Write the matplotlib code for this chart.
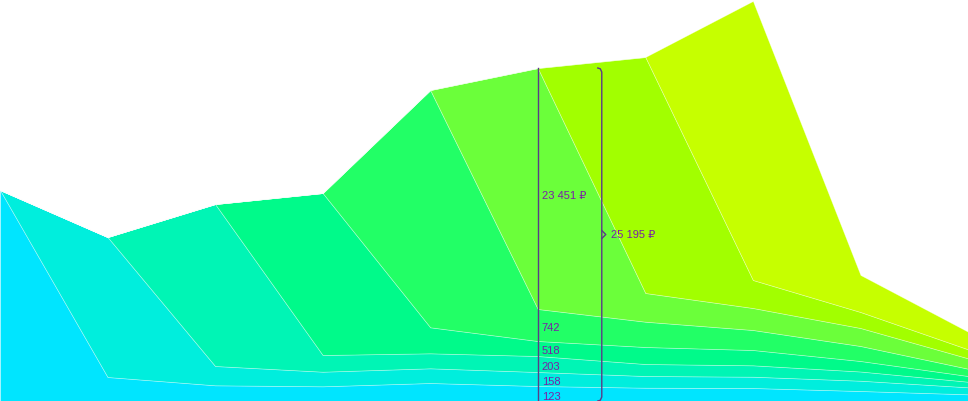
import matplotlib.pyplot as plt
import numpy as np

# periods on the x axis (10 points, no tick labels shown)
periods = np.arange(10)

# layer heights (chart units, bottom layer first)
layer0 = [211, 24, 15.7, 14.7, 18, 15, 13.3, 13, 10, 6.7]
layer1 = [0, 140, 19.3, 14.6, 14.7, 14, 11.7, 11.3, 10.3, 7]
layer2 = [0, 0, 162, 16.7, 15, 16, 12, 11.4, 9.2, 5.6]
layer3 = [0, 0, 0, 162, 26, 15, 17, 15.3, 10.5, 5.7]
layer4 = [0, 0, 0, 0, 237.3, 32, 25.3, 20, 15, 7.3]
layer5 = [0, 0, 0, 0, 0, 241, 28.7, 22, 18, 10.4]
layer6 = [0, 0, 0, 0, 0, 0, 236, 28, 16, 9]
layer7 = [0, 0, 0, 0, 0, 0, 0, 279, 37, 17.6]
layers = [layer0, layer1, layer2, layer3, layer4, layer5, layer6, layer7]

colors = ['#00E5FF', '#00EEDD', '#00F5B5', '#00FA8A',
          '#22FF66', '#6BFF3A', '#A2FF00', '#C6FF00']

# hover tooltip at period 5
hover_idx = 5
hover_labels = ['123', '158', '203', '518', '742', '23 451 ₽']
hover_total = '25 195 ₽'

fig = plt.figure(figsize=(9.68, 4.01), dpi=100)
ax = fig.add_axes([0, 0, 1, 1])
ax.stackplot(periods, *layers, colors=colors,
             edgecolor=(1, 1, 1, 0.4), linewidth=0.5)
ax.set_xlim(0, 9)
ax.set_ylim(0, 401)
ax.axis('off')

px = 9 / 968  # one pixel in x data units
line_col = '#5a3c88'
text_col = '#7a1fa8'
fnt = ['Liberation Sans', 'DejaVu Sans']

stack = np.cumsum([l[hover_idx] for l in layers])
total = stack[len(hover_labels) - 1]
ax.plot([hover_idx, hover_idx], [0, total], color=line_col, lw=1)

bottoms = np.concatenate([[0], stack[:-1]])
for n, (lab, b, t) in enumerate(zip(hover_labels, bottoms, stack)):
    shift = 7.5 if n == len(hover_labels) - 1 else 3
    ax.text(hover_idx + 4 * px, (b + t) / 2 - shift, lab, color=text_col,
            fontsize=8, va='center', ha='left', family=fnt)

# bracket with the total
bx = hover_idx + 64 * px
mid = total / 2
ax.plot([bx - 4 * px, bx - 1.5 * px, bx, bx, bx - 1.5 * px, bx - 4 * px],
        [total, total - 0.8, total - 4, 4, 0.8, 0], color=line_col, lw=1)
ax.plot([bx, bx + 4 * px, bx], [mid + 4, mid, mid - 4], color=line_col, lw=1)
ax.text(bx + 9 * px, mid - 1, hover_total, color=text_col, fontsize=8,
        va='center', ha='left', family=fnt)

fig.savefig('out.png', dpi=100)
